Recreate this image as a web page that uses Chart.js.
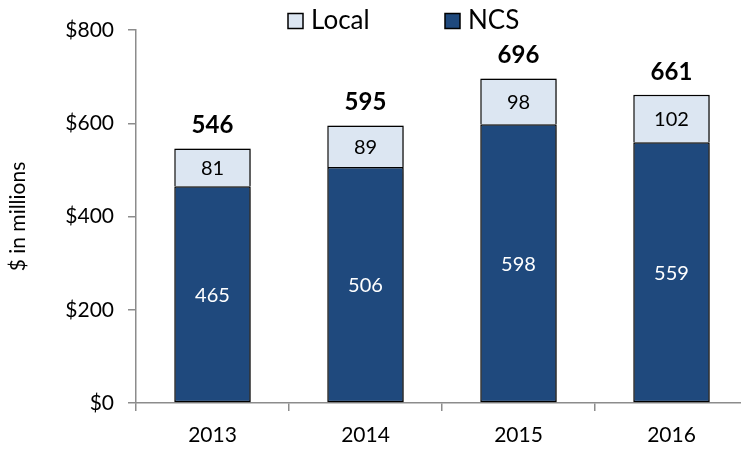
<!DOCTYPE html>
<html>
<head>
<meta charset="utf-8">
<script src="https://cdn.jsdelivr.net/npm/chart.js@4.4.1/dist/chart.umd.min.js"></script>
<style>
  html, body { margin: 0; padding: 0; background: #fff; overflow: hidden; }
  #wrap { width: 741px; height: 449px; overflow: hidden; }
</style>
</head>
<body>
<div id="wrap"><canvas id="chart" width="760" height="449"></canvas></div>
<script>
// Données ($ en millions)
const years = ["2013", "2014", "2015", "2016"];
const ncsValues = [465, 506, 598, 559];
const localValues = [81, 89, 98, 102];
const yTickValues = [0, 200, 400, 600, 800];

const totals = years.map((_, i) => ncsValues[i] + localValues[i]);

const FONT = "Lato, 'Open Sans', sans-serif";
const AXIS_GRAY = "#8c8c8c";
const NCS_BLUE = "#1f497d";
const LOCAL_BLUE = "#dce6f2";

// Ombre légère à droite / en bas des barres, comme dans Excel
const barShadow = {
  id: "barShadow",
  beforeDatasetDraw(chart, args) {
    const ctx = chart.ctx;
    ctx.save();
    ctx.shadowColor = "rgba(0, 0, 0, 0.3)";
    ctx.shadowOffsetX = 2;
    ctx.shadowOffsetY = args.index === 0 ? 2 : 0;
    ctx.shadowBlur = 3;
  },
  afterDatasetDraw(chart) {
    chart.ctx.restore();
  }
};

// Valeurs dans les segments + totaux au-dessus
const valueLabels = {
  id: "valueLabels",
  afterDatasetsDraw(chart) {
    const ctx = chart.ctx;
    ctx.save();
    ctx.textAlign = "center";
    ctx.textBaseline = "middle";
    ctx.font = `20px ${FONT}`;
    chart.data.datasets.forEach((dataset, i) => {
      const meta = chart.getDatasetMeta(i);
      ctx.fillStyle = dataset.labelColor;
      meta.data.forEach((bar, j) => {
        ctx.fillText(String(dataset.data[j]), bar.x, (bar.y + bar.base) / 2 + 1);
      });
    });

    const topMeta = chart.getDatasetMeta(chart.data.datasets.length - 1);
    ctx.font = `bold 24px ${FONT}`;
    ctx.fillStyle = "#000";
    ctx.textBaseline = "bottom";
    topMeta.data.forEach((bar, j) => {
      ctx.fillText(String(totals[j]), bar.x, bar.y - 11);
    });
    ctx.restore();
  }
};

// Légende en haut : Local puis NCS
const LEGEND_X = [288, 445];
const LEGEND_Y = 21;
const topLegend = {
  id: "topLegend",
  afterDraw(chart) {
    const ctx = chart.ctx;
    const order = [1, 0];
    ctx.save();
    ctx.font = `26px ${FONT}`;
    ctx.textBaseline = "middle";
    ctx.textAlign = "left";
    order.forEach((dsIndex, k) => {
      const ds = chart.data.datasets[dsIndex];
      const x = LEGEND_X[k];
      ctx.fillStyle = ds.backgroundColor;
      ctx.fillRect(x, LEGEND_Y - 7.5, 15, 15);
      ctx.strokeStyle = "#000";
      ctx.lineWidth = 1.5;
      ctx.strokeRect(x, LEGEND_Y - 7.5, 15, 15);
      ctx.fillStyle = "#000";
      ctx.fillText(ds.label, x + 23, LEGEND_Y);
    });
    ctx.restore();
  }
};

new Chart(document.querySelector("#chart"), {
  type: "bar",
  data: {
    labels: years,
    datasets: [
      {
        label: "NCS",
        data: ncsValues,
        backgroundColor: NCS_BLUE,
        borderColor: "#000",
        borderWidth: 1.5,
        borderSkipped: false,
        labelColor: "#fff"
      },
      {
        label: "Local",
        data: localValues,
        backgroundColor: LOCAL_BLUE,
        borderColor: "#000",
        borderWidth: 1.5,
        // la séparation avec NCS est déjà tracée par le segment du dessous
        borderSkipped: "bottom",
        labelColor: "#000"
      }
    ]
  },
  options: {
    responsive: false,
    animation: false,
    layout: { padding: { top: 30, right: 12, left: 0, bottom: 0 } },
    datasets: { bar: { barPercentage: 0.5, categoryPercentage: 1.0 } },
    plugins: {
      legend: { display: false },
      tooltip: { enabled: false }
    },
    scales: {
      x: {
        stacked: true,
        grid: { drawOnChartArea: false, color: AXIS_GRAY, tickLength: 8, lineWidth: 1.5 },
        border: { color: AXIS_GRAY, width: 1.5 },
        ticks: { color: "#000", font: { family: FONT, size: 21 }, padding: 12 },
        afterFit: (scale) => { scale.height = 46; }
      },
      y: {
        stacked: true,
        min: 0,
        max: 800,
        afterBuildTicks: (scale) => { scale.ticks = yTickValues.map((value) => ({ value })); },
        grid: { drawOnChartArea: false, color: AXIS_GRAY, tickLength: 8, lineWidth: 1.5 },
        border: { color: AXIS_GRAY, width: 1.5 },
        ticks: {
          color: "#000",
          font: { family: FONT, size: 21 },
          padding: 14,
          callback: (value) => `$${value}`
        },
        title: {
          display: true,
          text: "$ in millions",
          color: "#000",
          font: { family: FONT, size: 21 },
          padding: { top: 6, bottom: 0 }
        },
        afterFit: (scale) => { scale.width = 136; }
      }
    }
  },
  plugins: [barShadow, valueLabels, topLegend]
});
</script>
</body>
</html>
